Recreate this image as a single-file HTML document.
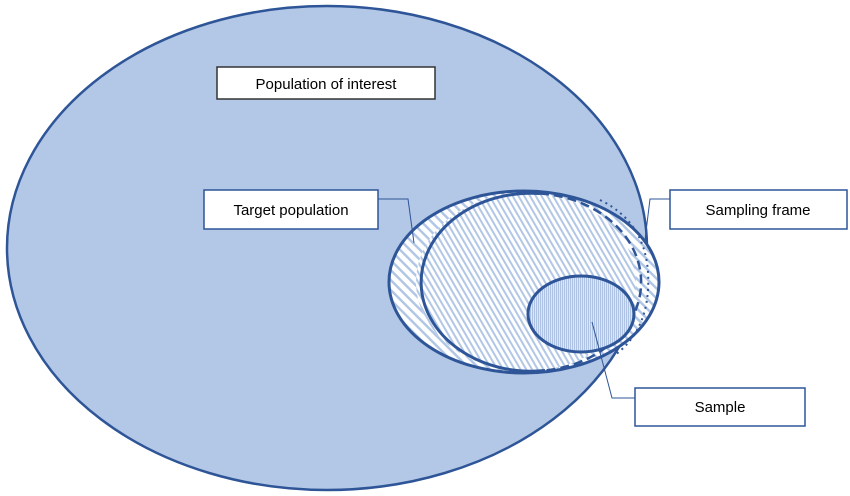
<!DOCTYPE html>
<html><head><style>body{margin:0;background:#fff}svg{display:block}
text{font-family:"Liberation Sans",sans-serif;font-size:15px;fill:#000}</style></head><body>
<svg width="850" height="496" viewBox="0 0 850 496">
<defs>
<pattern id="h1" width="7" height="7" patternUnits="userSpaceOnUse" patternTransform="rotate(-45)">
<rect width="7" height="7" fill="#fff"/><rect width="2.5" height="7" fill="#b2c7e6"/></pattern>
<pattern id="h2" width="5" height="5" patternUnits="userSpaceOnUse" patternTransform="rotate(-30)">
<rect width="5" height="5" fill="#fff"/><rect width="2" height="5" fill="#b2c7e6"/></pattern>
<pattern id="h3" width="2" height="2" patternUnits="userSpaceOnUse">
<rect width="2" height="2" fill="#dce6f4"/><rect width="1" height="2" fill="#aec3e4"/></pattern>
</defs>
<ellipse cx="327" cy="248" rx="320" ry="242" fill="#b3c7e6" stroke="#2e5597" stroke-width="2.5"/>
<ellipse cx="524" cy="282" rx="135" ry="91" fill="url(#h1)" stroke="#2e5597" stroke-width="3"/>
<ellipse cx="526" cy="282" rx="110" ry="89" fill="url(#h2)" stroke="none"/>
<path d="M540 193.5 A110 89 0 1 0 545 370.5" fill="none" stroke="#2e5597" stroke-width="3"/>
<path d="M540 193.5 A110 89 0 0 1 545 370.5" fill="none" stroke="#2e5597" stroke-width="2.5" stroke-dasharray="9,5"/>
<path d="M600 200 Q652 225 648 290 Q645 335 612 357" fill="none" stroke="#2e5597" stroke-width="2" stroke-dasharray="2,4"/>
<ellipse cx="581" cy="314" rx="53" ry="38" fill="url(#h3)" stroke="#2e5597" stroke-width="3"/>
<g fill="none" stroke="#2e5597" stroke-width="1">
<polyline points="378,199 408,199 414,243"/>
<polyline points="670,199 650,199 645,240"/>
<polyline points="635,398 612,398 592,322"/>
</g>
<g fill="#fff" stroke-width="1.5">
<rect x="217" y="67" width="218" height="32" stroke="#333"/>
<rect x="204" y="190" width="174" height="39" stroke="#2e5597"/>
<rect x="670" y="190" width="177" height="39" stroke="#2e5597"/>
<rect x="635" y="388" width="170" height="38" stroke="#2e5597"/>
</g>
<text x="326" y="89" text-anchor="middle">Population of interest</text>
<text x="291" y="215" text-anchor="middle">Target population</text>
<text x="758" y="215" text-anchor="middle">Sampling frame</text>
<text x="720" y="412" text-anchor="middle">Sample</text>
</svg></body></html>
